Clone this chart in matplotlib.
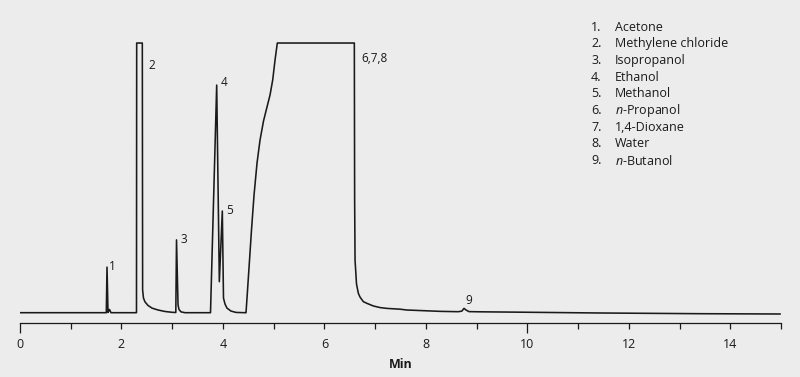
import matplotlib
matplotlib.use("Agg")
import matplotlib.pyplot as plt

plt.rcParams['font.family'] = ['Open Sans', 'DejaVu Sans']
plt.rcParams['mathtext.fontset'] = 'custom'
plt.rcParams['mathtext.rm'] = 'Open Sans'
plt.rcParams['mathtext.it'] = 'Open Sans:italic'

# --- Data ---
# retention time (min) and detector response (% of saturation)
time = [0.0, 1.701, 1.715, 1.735, 1.764, 1.794,
        2.296, 2.300, 2.411, 2.417, 2.434, 2.464, 2.523, 2.602, 2.720, 2.858, 2.996,
        3.071, 3.085, 3.115, 3.134, 3.174, 3.253,
        3.755, 3.877, 3.929, 3.988, 4.011, 4.041, 4.080, 4.159, 4.258, 4.435,
        4.455, 4.485, 4.524, 4.563, 4.613, 4.672, 4.731, 4.800, 4.869, 4.928,
        4.981, 5.027, 5.072,
        6.590, 6.596, 6.604, 6.633, 6.669, 6.702, 6.767, 6.834, 6.964, 7.096,
        7.228, 7.490, 7.623, 7.885, 8.279, 8.634, 8.707, 8.752, 8.791, 8.851,
        9.068, 9.856, 11.433, 13.404, 14.981]
signal = [0.0, 0.0, 16.9, 0.1, 1.2, 0.0,
          0.0, 100, 100, 8.4, 5.4, 4.0, 2.7, 1.7, 1.0, 0.45, 0.15,
          0.07, 27.0, 2.9, 1.2, 0.3, 0.0,
          0.0, 84.4, 11.5, 37.7, 5.4, 3.2, 1.7, 0.6, 0.1, 0.0,
          0.0, 8.4, 19.5, 30.7, 43.6, 55.5, 64.0, 71.1, 76.3, 80.7,
          86.3, 93.7, 100,
          100, 41.8, 19.5, 10.6, 7.2, 5.8, 4.1, 3.5, 2.5, 1.9,
          1.6, 1.3, 1.0, 0.8, 0.5, 0.37, 0.56, 1.6, 1.0, 0.4,
          0.33, 0.19, -0.11, -0.37, -0.48]

# peak labels and where they sit
peak_labels = ["1", "2", "3", "4", "5", "6,7,8", "9"]
label_t = [1.745, 2.533, 3.168, 3.956, 4.061, 6.722, 8.837]
label_v = [17.1, 91.6, 27.3, 85.5, 37.8, 94.3, 4.7]
label_ha = ["left", "left", "left", "left", "left", "left", "center"]

compounds = ["Acetone", "Methylene chloride", "Isopropanol", "Ethanol",
             "Methanol", "$n$-Propanol", "1,4-Dioxane", "Water", "$n$-Butanol"]

bg = '#ececec'
ink = '#1a1a1a'

# --- Figure ---
fig = plt.figure(figsize=(8, 3.77), dpi=100, facecolor=bg)
ax = fig.add_axes([0.025, 1 - 323 / 377, 0.95125, 318 / 377])
ax.set_facecolor(bg)

ax.plot(time, signal, color=ink, linewidth=1.15, solid_joinstyle='round')

for lab, t, v, ha in zip(peak_labels, label_t, label_v, label_ha):
    ax.text(t, v, lab, ha=ha, va='center', fontsize=8.5, color=ink)

ax.set_xlim(0, 15)
ax.set_ylim(-3.82, 114.1)
for s in ['left', 'top', 'right']:
    ax.spines[s].set_visible(False)
ax.spines['bottom'].set_color(ink)
ax.spines['bottom'].set_linewidth(0.9)
ax.set_yticks([])

ax.set_xticks(range(0, 15, 2))
ax.set_xticks([1, 3, 5, 7, 9, 11, 13, 15], minor=True)
ax.tick_params(axis='x', which='major', length=4, width=0.9, color=ink,
               pad=6.5, labelsize=9, labelcolor=ink)
ax.tick_params(axis='x', which='minor', length=4, width=0.9, color=ink)
# longer ticks at 0 and 10
for tk in (ax.xaxis.get_major_ticks()[0], ax.xaxis.get_major_ticks()[5]):
    tk.tick1line.set_markersize(7)

ax.set_xlabel('Min', fontsize=9, fontweight='bold', color=ink, labelpad=5)

# compound list
for i, name in enumerate(compounds):
    y = 1 - (27.3 + i * 16.67) / 377
    fig.text(591 / 800, y, f"{i + 1}.", ha='left', va='center', fontsize=9, color=ink)
    fig.text(615 / 800, y, name, ha='left', va='center', fontsize=9, color=ink)

fig.savefig('out.png', dpi=100, facecolor=bg)
